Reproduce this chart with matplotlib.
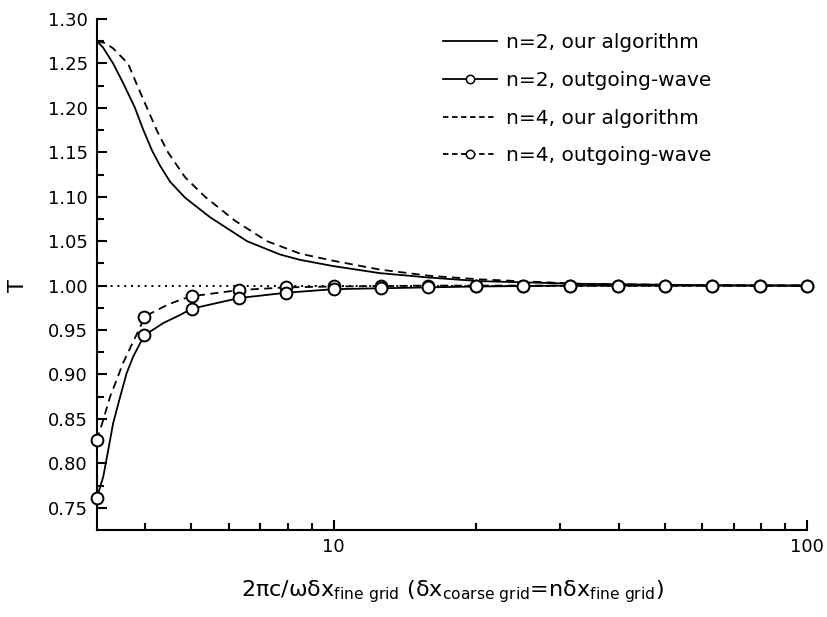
import matplotlib
matplotlib.use('Agg')
import matplotlib.pyplot as plt
from matplotlib.lines import Line2D
from matplotlib.ticker import NullFormatter

# valores (x em escala log)
x_ours2 = [3.162, 3.256, 3.42, 3.606, 3.804, 3.956, 4.133, 4.297, 4.511, 4.852, 5.479, 6.56, 7.703, 8.49, 9.97, 12.53, 15.98, 20.37, 33.15, 59.4, 100.0]
t_ours2 = [1.275, 1.268, 1.250, 1.226, 1.200, 1.176, 1.152, 1.135, 1.117, 1.099, 1.077, 1.050, 1.035, 1.029, 1.022, 1.014, 1.009, 1.005, 1.002, 1.0005, 1.000]

x_ours4 = [3.162, 3.287, 3.42, 3.537, 3.677, 3.841, 4.033, 4.235, 4.467, 4.852, 5.348, 6.189, 7.232, 8.49, 9.97, 12.53, 15.98, 20.37, 33.15, 59.4, 100.0]
t_ours4 = [1.275, 1.273, 1.267, 1.259, 1.250, 1.226, 1.200, 1.174, 1.150, 1.122, 1.100, 1.073, 1.050, 1.036, 1.028, 1.018, 1.011, 1.007, 1.002, 1.0005, 1.000]

x_ow2 = [3.16, 3.26, 3.34, 3.42, 3.54, 3.65, 3.77, 3.90, 3.98, 4.37, 4.74, 5.01, 6.31, 7.94, 10.0, 12.6, 15.8, 20.0, 25.1, 31.6, 100.0]
t_ow2 = [0.761, 0.785, 0.815, 0.845, 0.875, 0.901, 0.920, 0.935, 0.944, 0.958, 0.967, 0.974, 0.986, 0.992, 0.996, 0.997, 0.998, 0.999, 0.9995, 1.000, 1.000]

x_ow4 = [3.16, 3.26, 3.37, 3.48, 3.59, 3.74, 3.90, 3.98, 4.44, 4.74, 5.01, 6.31, 7.94, 10.0, 12.6, 15.8, 100.0]
t_ow4 = [0.826, 0.849, 0.875, 0.894, 0.913, 0.933, 0.953, 0.965, 0.978, 0.984, 0.988, 0.995, 0.998, 0.999, 0.9995, 1.000, 1.000]

# pontos marcados (circulos)
x_mk = [3.16, 3.98, 5.01, 6.31, 7.94, 10.0, 12.6, 15.8, 20.0, 25.1, 31.6, 39.8, 50.1, 63.1, 79.4, 100.0]
t_mk2 = [0.761, 0.944, 0.974, 0.986, 0.992, 0.996, 0.997, 0.998, 0.999, 0.9995, 1.0, 1.0, 1.0, 1.0, 1.0, 1.0]
t_mk4 = [0.826, 0.965, 0.988, 0.995, 0.998, 0.999, 0.9995, 1.0, 1.0, 1.0, 1.0, 1.0, 1.0, 1.0, 1.0, 1.0]

labels = ['n=2, our algorithm', 'n=2, outgoing-wave', 'n=4, our algorithm', 'n=4, outgoing-wave']
y_major = [0.75, 0.80, 0.85, 0.90, 0.95, 1.00, 1.05, 1.10, 1.15, 1.20, 1.25, 1.30]
y_minor = [0.775, 0.825, 0.875, 0.925, 0.975, 1.025, 1.075, 1.125, 1.175, 1.225, 1.275]
x_minor = [4, 5, 6, 7, 8, 9, 20, 30, 40, 50, 60, 70, 80, 90]

plt.rcParams['font.family'] = 'DejaVu Sans'
plt.rcParams['mathtext.fontset'] = 'dejavusans'

fig = plt.figure(figsize=(8.28, 6.17), dpi=100)
ax = fig.add_axes([97/828, 1 - 530/617, 710/828, 511/617])

dash = (0, (4.5, 3))
lw = 1.3

ax.axhline(1.0, color='black', lw=1.4, ls=(0, (1, 2.5)), zorder=1)
ax.plot(x_ours2, t_ours2, color='black', lw=lw, ls='-', zorder=2)
ax.plot(x_ours4, t_ours4, color='black', lw=lw, ls=dash, zorder=2)
ax.plot(x_ow2, t_ow2, color='black', lw=lw, ls='-', zorder=2)
ax.plot(x_ow4, t_ow4, color='black', lw=lw, ls=dash, zorder=2)
ax.plot(x_mk, t_mk4, ls='none', marker='o', ms=8.5, mfc='white', mec='black', mew=1.4, zorder=3, clip_on=False)
ax.plot(x_mk, t_mk2, ls='none', marker='o', ms=8.5, mfc='white', mec='black', mew=1.4, zorder=3, clip_on=False)

ax.set_xscale('log')
ax.set_xlim(10**0.5, 100)
ax.set_ylim(0.725, 1.30)

ax.spines['top'].set_visible(False)
ax.spines['right'].set_visible(False)
ax.spines['left'].set_linewidth(1.5)
ax.spines['bottom'].set_linewidth(1.5)

ax.set_xticks([10, 100], ['10', '100'])
ax.set_xticks(x_minor, minor=True)
ax.xaxis.set_minor_formatter(NullFormatter())
ax.set_yticks(y_major, ['%.2f' % v for v in y_major])
ax.set_yticks(y_minor, minor=True)

ax.tick_params(which='both', direction='in', top=False, right=False, width=1.5, labelsize=13)
ax.tick_params(which='major', length=7)
ax.tick_params(which='minor', length=5)
ax.tick_params(axis='y', pad=6.5)
ax.tick_params(axis='x', pad=6)

ax.set_xlabel('2πc/ωδx$_{\\mathregular{fine\\ grid}}$ (δx$_{\\mathregular{coarse\\ grid}}$=nδx$_{\\mathregular{fine\\ grid}}$)', fontsize=16)
ax.xaxis.set_label_coords(0.5, -0.095)
ax.set_ylabel('T', fontsize=15)
ax.yaxis.set_label_coords(-0.097, 0.479)

handles = [
    Line2D([], [], color='black', lw=lw, ls='-'),
    Line2D([], [], color='black', lw=lw, ls='-', marker='o', ms=6, mfc='white', mec='black', mew=1.1),
    Line2D([], [], color='black', lw=lw, ls=(0, (3, 2))),
    Line2D([], [], color='black', lw=lw, ls=(0, (3, 2)), marker='o', ms=6, mfc='white', mec='black', mew=1.1),
]
ax.legend(handles, labels, loc='upper left', bbox_to_anchor=(0.487, 0.972), frameon=False,
          fontsize=14.5, handlelength=2.7, handletextpad=0.45, labelspacing=0.93,
          borderpad=0, borderaxespad=0, numpoints=1)

fig.savefig('out.png', dpi=100)
